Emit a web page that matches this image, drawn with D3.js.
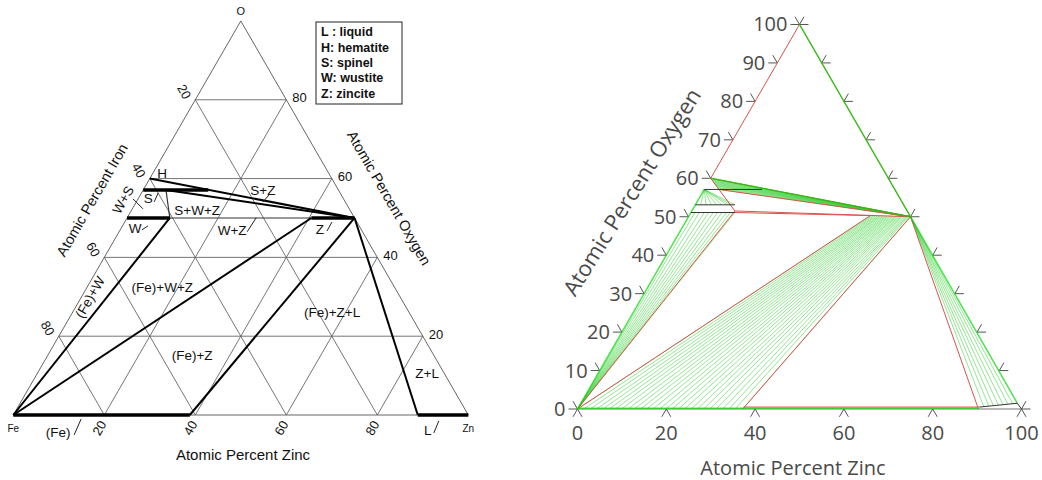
<!DOCTYPE html>
<html>
<head>
<meta charset="utf-8">
<script src="https://cdn.jsdelivr.net/npm/d3@7"></script>
<style>
  body { margin: 0; background: #fff; }
</style>
</head>
<body>
<svg id="chart" width="1042" height="480"></svg>
<script>
// all compositions are [atomic % Zn, atomic % O]

// ---- left panel data
const gridLevels = [20, 40, 60, 80];
const ironTickLabels = ['20', '40', '60', '80'];
const oxygenTickLabels = ['80', '60', '40', '20'];
const zincTickLabels = ['20', '40', '60', '80'];
const legendItems = ['L : liquid', 'H: hematite', 'S: spinel', 'W: wustite', 'Z: zincite'];

// single phase ranges (drawn heavy)
const leftPhaseRanges = [
  [[0, 0], [38.8, 0]],
  [[88.9, 0], [100, 0]],
  [[0, 57.1], [14.3, 57.1]],
  [[0, 50], [9.4, 50]],
  [[40.5, 50], [50, 50]]
];
// tie triangle boundaries
const leftBoundaries = [
  [[0, 60], [50, 50]],
  [[5, 57.1], [50, 50]],
  [[0, 0], [9.4, 50]],
  [[0, 0], [40.5, 50]],
  [[38.8, 0], [50, 50]],
  [[50, 50], [88.9, 0]]
];
const leftThinBoundaries = [
  [[5, 57.1], [9.4, 50]],
  [[9.4, 50], [40.5, 50]]
];
const leftLabels = [
  { text: 'H', zn: 2.0, o: 61.4 },
  { text: 'W+S', zn: -3.2, o: 54.6, tilt: true },
  { text: 'S', zn: 2.1, o: 55.1 },
  { text: 'S+Z', zn: 26.3, o: 57.1 },
  { text: 'S+W+Z', zn: 14.4, o: 52.0 },
  { text: 'W', zn: 3.0, o: 47.5 },
  { text: 'W+Z', zn: 24.6, o: 47.0 },
  { text: 'Z', zn: 43.8, o: 47.2 },
  { text: '(Fe)+W', zn: 1.9, o: 29.9, tilt: true },
  { text: '(Fe)+W+Z', zn: 16.5, o: 32.5 },
  { text: '(Fe)+Z+L', zn: 57.0, o: 26.1 },
  { text: '(Fe)+Z', zn: 31.7, o: 15.2 },
  { text: 'Z+L', zn: 85.6, o: 10.7 },
  { text: '(Fe)', zn: 12.0, o: -4.3 },
  { text: 'L', zn: 93.0, o: -3.8 }
];

// ---- right panel data
const oxygenTicks = [0, 10, 20, 30, 40, 50, 60, 70, 80, 90, 100];
const zincTicks = [0, 20, 40, 60, 80, 100];
const rightEdgeTicks = [0, 10, 20, 30, 40, 50, 60, 70, 80, 90, 100];

const redLines = [
  [[0, 60], [0, 100]],
  [[0, 100], [50, 50]],
  [[0, 60], [50, 50]],
  [[0, 60], [3.3, 57.1], [9.7, 51.5], [0, 0]],
  [[3.3, 57.1], [50, 50]],
  [[9.7, 51.5], [50, 50]],
  [[9.9, 51.1], [40.8, 50.3]],
  [[40.8, 50.3], [0, 0]],
  [[37.2, 0], [50, 50]],
  [[50, 50], [90.3, 0]],
  [[37.2, 0.5], [90.3, 0.5]]
];
const blackLines = [
  [[0, 57.1], [13, 57.1]],
  [[0, 53.1], [8.9, 53.1]],
  [[0, 51.1], [9.9, 51.1]],
  [[90.3, 0.5], [98.3, 1.5], [100, 0]]
];
const greenLines = [
  [[0, 100], [50, 50]],
  [[50, 50], [98.3, 1.5]],
  [[0, 0], [0, 57.1]],
  [[0, 60], [50, 50]],
  [[0, 0.2], [90.3, 0.2]]
];

// (Fe) + W tie lines: pure Fe to wustite
const wustiteLowZn = [0.9, 1.9, 3.0, 4.0, 5.0, 6.0, 7.0, 8.0, 8.9, 9.9];
// W + S tie lines: magnetite to wustite upper side
const wustiteHighZn = [1.2, 2.4, 3.6, 4.8, 6.0, 7.2, 8.0, 8.9];
// S + Z band: spinel side to zincite
const spinelBand = [
  [0, 60], [0.25, 59.8], [0.5, 59.55], [0.75, 59.35], [1.0, 59.1], [1.25, 58.9], [1.5, 58.65],
  [1.75, 58.45], [2.0, 58.2], [2.3, 58.0], [2.6, 57.7], [2.9, 57.45], [3.3, 57.1]
];
// (Fe) + Z tie lines
const ironSideZn = [0, 1.4, 2.8, 4.3, 5.7, 7.1, 8.5, 9.9, 11.4, 12.8, 14.2, 15.6, 17.0, 18.5,
  19.9, 21.3, 22.7, 24.1, 25.6, 27.0, 28.4, 29.8, 31.2, 32.7, 34.1, 35.5, 37.2];
const zinciteSideZn = [40.8, 41.2, 41.6, 42.0, 42.4, 42.8, 43.1, 43.5, 43.9, 44.3, 44.6, 45.0, 45.3, 45.7,
  46.0, 46.4, 46.7, 47.0, 47.4, 47.7, 48.0, 48.3, 48.7, 49.0, 49.3, 49.6, 50.0];
const zinciteOxygen = 50.2;
// Z + L tie lines
const liquidZn = [91.3, 92.3, 93.3, 94.3, 95.3, 96.3, 97.3];
const liquidO = [0.5, 0.7, 0.8, 1.0, 1.1, 1.3, 1.4];

const svg = d3.select('#chart');
const line = d3.line();
const SQ = Math.sqrt(3) / 2;

svg.append('defs').append('clipPath').attr('id', 'leftClip')
  .append('rect').attr('width', 474).attr('height', 480);

// ================= left panel =================
const lx = d3.scaleLinear().domain([0, 100]).range([13.3, 468.3]);
const ly = d3.scaleLinear().domain([0, 100]).range([415, 415 - 455 * SQ]);
const lp = ([zn, o]) => [lx(zn + o / 2), ly(o)];

const left = svg.append('g').attr('clip-path', 'url(#leftClip)')
  .style('font-family', '"Liberation Sans", Arial, sans-serif')
  .style('fill', '#111');

function seg(g, pts, proj, color, width) {
  g.append('path')
    .attr('d', line(pts.map(proj)))
    .attr('fill', 'none')
    .attr('stroke', color)
    .attr('stroke-width', width)
    .attr('stroke-linejoin', 'round');
}

gridLevels.forEach(k => {
  seg(left, [[0, k], [100 - k, k]], lp, '#666', 0.9);
  seg(left, [[k, 0], [k, 100 - k]], lp, '#666', 0.9);
  seg(left, [[100 - k, 0], [0, 100 - k]], lp, '#666', 0.9);
});
seg(left, [[0, 0], [100, 0], [0, 100], [0, 0]], lp, '#555', 0.9);

leftThinBoundaries.forEach(d => seg(left, d, lp, '#333', 1.2));
leftBoundaries.forEach(d => seg(left, d, lp, '#000', 2));
leftPhaseRanges.forEach(d => seg(left, d, lp, '#000', 3.5));

// tick labels
left.selectAll('.fe').data(ironTickLabels).enter().append('text')
  .attr('transform', d => {
    const [x, y] = lp([0, 100 - +d]);
    return `translate(${x - 11},${y - 8}) rotate(60)`;
  })
  .attr('text-anchor', 'middle').attr('dy', '0.35em')
  .style('font-size', '13px').text(d => d);

left.selectAll('.ox').data(oxygenTickLabels).enter().append('text')
  .attr('x', d => lp([100 - +d, +d])[0] + 6)
  .attr('y', d => lp([100 - +d, +d])[1] - 2)
  .attr('dy', '0.35em')
  .style('font-size', '13px').text(d => d);

left.selectAll('.zn').data(zincTickLabels).enter().append('text')
  .attr('transform', d => {
    const [x, y] = lp([+d, 0]);
    return `translate(${x - 5},${y + 13}) rotate(-60)`;
  })
  .attr('text-anchor', 'middle').attr('dy', '0.35em')
  .style('font-size', '13px').text(d => d);

const corner = (txt, p, dx, dy, size) => left.append('text')
  .attr('x', lp(p)[0] + dx).attr('y', lp(p)[1] + dy)
  .attr('text-anchor', 'middle').attr('dy', '0.35em')
  .style('font-size', size).text(txt);
corner('O', [0, 100], 0, -10, '11px');
corner('Fe', [0, 0], 0, 13, '10px');
corner('Zn', [100, 0], 0, 13, '10px');

// phase labels
left.selectAll('.ph').data(leftLabels).enter().append('text')
  .attr('transform', d => {
    const [x, y] = lp([d.zn, d.o]);
    return `translate(${x},${y})` + (d.tilt ? ' rotate(-60)' : '');
  })
  .attr('text-anchor', 'middle').attr('dy', '0.35em')
  .style('font-size', '13.5px').text(d => d.text);

// little leader strokes next to some labels
const leaders = {
  'W+S': [10, -1, 20, 9], 'S': [6, 4, 10, -5], 'S+Z': [0, 12, 6, 5], 'W': [7, 2, 13, -2],
  'W+Z': [15, 2, 24, -12], 'Z': [7, 2, 12, -7], '(Fe)': [16, 3, 23, -13], 'L': [6, 3, 11, -9]
};
leftLabels.filter(d => leaders[d.text]).forEach(d => {
  const [x, y] = lp([d.zn, d.o]);
  const [a, b, c, e] = leaders[d.text];
  left.append('line')
    .attr('x1', x + a).attr('y1', y + b).attr('x2', x + c).attr('y2', y + e)
    .attr('stroke', '#222').attr('stroke-width', 1);
});

// axis titles
left.append('text').attr('x', 243).attr('y', 460).attr('text-anchor', 'middle')
  .style('font-size', '15px').text('Atomic Percent Zinc');
left.append('text').attr('transform', 'translate(92,200) rotate(-60)')
  .attr('text-anchor', 'middle').attr('dy', '0.35em')
  .style('font-size', '14.5px').text('Atomic Percent Iron');
left.append('text').attr('transform', 'translate(389,198) rotate(60)')
  .attr('text-anchor', 'middle').attr('dy', '0.35em')
  .style('font-size', '14.5px').text('Atomic Percent Oxygen');

// legend
const lg = left.append('g').attr('transform', 'translate(316,22)');
lg.append('rect').attr('width', 86).attr('height', 82)
  .attr('fill', '#fff').attr('stroke', '#222').attr('stroke-width', 1);
lg.selectAll('text').data(legendItems).enter().append('text')
  .attr('x', 5).attr('y', (d, i) => 10 + i * 15.3)
  .attr('dy', '0.35em')
  .style('font-size', '12.5px').style('font-weight', 'bold')
  .text(d => d);

// ================= right panel =================
const rx = d3.scaleLinear().domain([0, 100]).range([577.5, 1021.5]);
const ry = d3.scaleLinear().domain([0, 100]).range([409, 409 - 444 * SQ]);
const rp = ([zn, o]) => [rx(zn + o / 2), ry(o)];

const right = svg.append('g')
  .style('font-family', '"Open Sans", "Liberation Sans", sans-serif');

// ticks
const TK = 9;
const tick = (x1, y1, x2, y2) => right.append('line')
  .attr('x1', x1).attr('y1', y1).attr('x2', x2).attr('y2', y2)
  .attr('stroke', '#555').attr('stroke-width', 1);

seg(right, [[0, 0], [100, 0]], rp, '#777', 1.2);
oxygenTicks.forEach(o => {
  const [x, y] = rp([0, o]);
  tick(x, y, x - TK, y);
  tick(x, y, x - TK / 2, y - TK * SQ);
});
rightEdgeTicks.forEach(o => {
  const [x, y] = rp([100 - o, o]);
  tick(x, y, x + TK, y);
  tick(x, y, x + TK / 2, y - TK * SQ);
});
zincTicks.forEach(z => {
  const [x, y] = rp([z, 0]);
  tick(x, y, x - TK / 2, y + TK * SQ);
  tick(x, y, x + TK / 2, y + TK * SQ);
});

// tie lines
const fan = right.append('g').attr('stroke', '#2fcf2f').attr('stroke-opacity', 0.65)
  .attr('stroke-width', 0.8).attr('fill', 'none');
const tie = (a, b) => fan.append('path').attr('d', line([rp(a), rp(b)]));

wustiteLowZn.forEach(z => tie([0, 0], [z, 51.1]));
wustiteHighZn.forEach(z => tie([0, 57.1], [z, 53.1]));
spinelBand.forEach(p => tie(p, [50, 50]));
ironSideZn.forEach((z, i) => tie([z, 0], [zinciteSideZn[i], zinciteOxygen]));
liquidZn.forEach((z, i) => tie([50, 50], [z, liquidO[i]]));

redLines.forEach(d => seg(right, d, rp, '#d9534f', 1));
greenLines.forEach(d => seg(right, d, rp, 'rgba(0,215,0,0.7)', 1.5));
blackLines.forEach(d => seg(right, d, rp, '#333', 1));

// labels
right.selectAll('.oxl').data(oxygenTicks).enter().append('text')
  .attr('x', d => rp([0, d])[0] - 12)
  .attr('y', d => rp([0, d])[1])
  .attr('text-anchor', 'end').attr('dy', '0.35em')
  .style('font-size', '20px').style('fill', '#4a4a4a')
  .text(d => d);

right.selectAll('.znl').data(zincTicks).enter().append('text')
  .attr('x', d => rp([d, 0])[0])
  .attr('y', d => rp([d, 0])[1] + 24)
  .attr('text-anchor', 'middle').attr('dy', '0.35em')
  .style('font-size', '20px').style('fill', '#4a4a4a')
  .text(d => d);

right.append('text').attr('x', 793).attr('y', 468)
  .attr('text-anchor', 'middle').attr('dy', '0.35em')
  .style('font-size', '20px').style('fill', '#4a4a4a')
  .text('Atomic Percent Zinc');
right.append('text').attr('transform', 'translate(632,192) rotate(-58)')
  .attr('text-anchor', 'middle').attr('dy', '0.35em')
  .style('font-size', '22px').style('fill', '#4a4a4a')
  .text('Atomic Percent Oxygen');
</script>
</body>
</html>
